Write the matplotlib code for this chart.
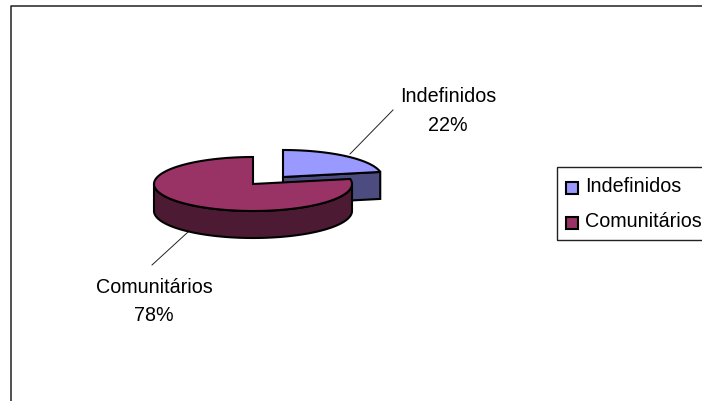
import numpy as np
import matplotlib
matplotlib.use("Agg")
import matplotlib.pyplot as plt
from matplotlib.patches import Patch, Polygon

plt.rcParams['font.family'] = ['Liberation Sans', 'DejaVu Sans']

categorias = ["Indefinidos", "Comunitários"]
percentuais = [22, 78]
cores_topo = ["#9999FF", "#993366"]
cores_lado = ["#4C4C80", "#4D1A33"]

# layout in pixels of the 702x402 figure
centros = [(283, 178), (253, 185)]
rx = 99
ry = 27
prof = 27
borda = "black"


def elipse(cx, cy, ini, fim):
    # angles in degrees, clockwise from 12 o'clock
    t = np.radians(np.linspace(ini, fim, 120))
    return np.column_stack([cx + rx * np.sin(t), cy - ry * np.cos(t)])


def fatia(ax, centro, ini, fim, topo, lado):
    cx, cy = centro
    desce = np.array([0, prof])
    apice = np.array([[cx, cy]])
    arco = elipse(cx, cy, ini, fim)

    # cut face that looks towards the viewer
    if ini < 90:
        fim_pts = elipse(cx, cy, fim, fim)[:1]
        if fim < 180:
            face = np.vstack([apice, fim_pts, fim_pts + desce, apice + desce])
            ax.add_patch(Polygon(face, fc=lado, ec=borda, lw=1.5, zorder=2))

    # outer wall, only the front half of the rim shows
    a = max(ini, 90)
    b = min(fim, 270)
    if b > a:
        frente = elipse(cx, cy, a, b)
        parede = np.vstack([frente, (frente + desce)[::-1]])
        ax.add_patch(Polygon(parede, fc=lado, ec=borda, lw=1.5, zorder=2))

    ax.add_patch(Polygon(np.vstack([apice, arco]), fc=topo, ec=borda, lw=1.5, zorder=2))


fig = plt.figure(figsize=(7.02, 4.02), dpi=100)
ax = fig.add_axes([0, 0, 1, 1])
ax.set_xlim(0, 702)
ax.set_ylim(402, 0)
ax.axis("off")

# chart frame, right and bottom fall outside the picture
ax.plot([10.5, 10.5, 702], [402, 6.5, 6.5], color="#222222", lw=1.1, zorder=1, clip_on=False)

inicio = 0
for i in range(len(percentuais)):
    fim = inicio + percentuais[i] * 3.6
    fatia(ax, centros[i], inicio, fim, cores_topo[i], cores_lado[i])
    inicio = fim

# leader lines
ax.plot([350, 393], [155, 111], color="#222222", lw=0.7, zorder=1)
ax.plot([188, 152], [233, 266], color="#222222", lw=0.7, zorder=1)

ax.text(448, 111, f"{categorias[0]}\n{percentuais[0]}%", ha="center", va="center",
        fontsize=14.2, linespacing=1.66, color="black")
ax.text(154, 301.5, f"{categorias[1]}\n{percentuais[1]}%", ha="center", va="center",
        fontsize=14.2, linespacing=1.66, color="black")

handles = [Patch(fc=cores_topo[i], ec="black", lw=1.5, label=categorias[i])
           for i in range(len(categorias))]
leg = ax.legend(handles=handles, loc="upper left", bbox_to_anchor=(557 / 702, 1 - 168 / 402),
                borderaxespad=0, fontsize=14.2, frameon=True, fancybox=False, framealpha=1,
                edgecolor="#222222", handlelength=0.58, handleheight=0.58, handletextpad=0.37,
                labelspacing=0.82, borderpad=0.47)
leg.get_frame().set_linewidth(1.0)
for h in leg.legend_handles:
    h.set_y(h.get_y() - 2.5)

fig.savefig("out.png", dpi=100)
